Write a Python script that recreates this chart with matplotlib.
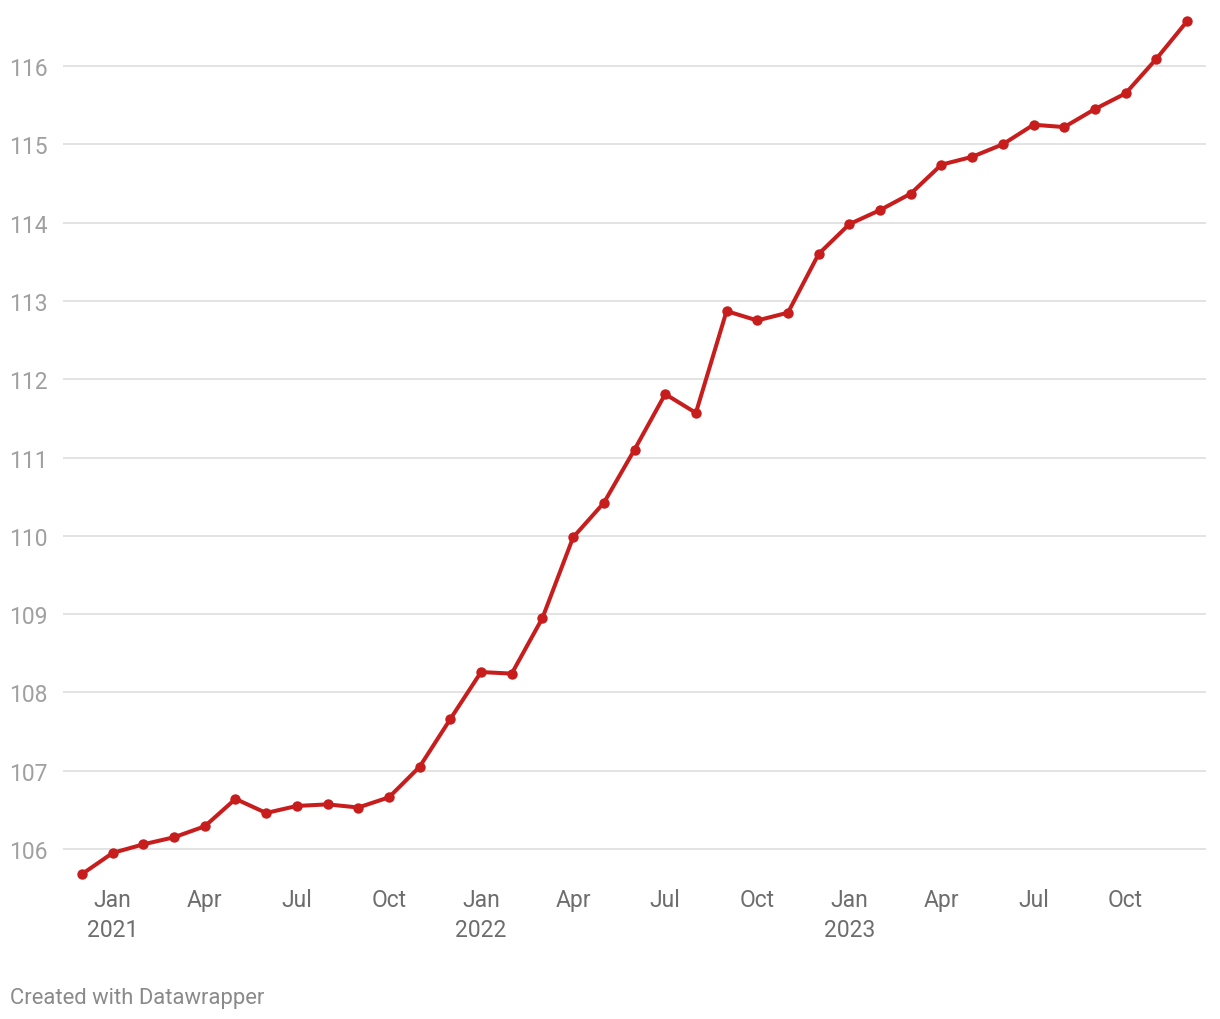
import matplotlib
matplotlib.use("Agg")
import matplotlib.pyplot as plt

months = list(range(37))  # Dec 2020 .. Dec 2023
values = [105.68, 105.95, 106.06, 106.15, 106.29, 106.64, 106.46, 106.55, 106.57, 106.53,
          106.66, 107.05, 107.66, 108.26, 108.24, 108.95, 109.98, 110.42, 111.10, 111.81,
          111.57, 112.87, 112.75, 112.85, 113.60, 113.98, 114.16, 114.37, 114.74, 114.84,
          115.00, 115.25, 115.22, 115.45, 115.65, 116.09, 116.57]
xtick_pos = [1, 4, 7, 10, 13, 16, 19, 22, 25, 28, 31, 34]
xtick_labels = ["Jan\n2021", "Apr", "Jul", "Oct", "Jan\n2022", "Apr", "Jul", "Oct",
                "Jan\n2023", "Apr", "Jul", "Oct"]
ytick_vals = [106, 107, 108, 109, 110, 111, 112, 113, 114, 115, 116]

plt.rcParams['font.family'] = ['Roboto', 'DejaVu Sans']

W, H = 1220, 1020
fig = plt.figure(figsize=(W / 100, H / 100), dpi=100)
left, right, top, bottom = 63, 1206, 10, 885
ax = fig.add_axes([left / W, 1 - bottom / H, (right - left) / W, (bottom - top) / H])

ax.plot(months, values, color="#c71e1d", lw=2.9, marker="o", ms=7.5,
        markeredgewidth=0, zorder=3, solid_joinstyle="miter")

ax.set_xlim(-0.62, 36.62)
ax.set_ylim(105.553, 116.728)
ax.set_yticks(ytick_vals)
ax.set_yticklabels([str(v) for v in ytick_vals])
ax.set_xticks(xtick_pos)
ax.set_xticklabels(xtick_labels)

ax.grid(axis="y", color="#e3e3e3", lw=1.4, zorder=0)
for s in ax.spines.values():
    s.set_visible(False)
ax.tick_params(axis="y", length=0, pad=38.5, labelsize=16.5, labelcolor="#a0a0a0")
for lab in ax.get_yticklabels():
    lab.set_horizontalalignment("left")
ax.tick_params(axis="x", length=0, pad=3, labelsize=16.5, labelcolor="#6d6d6d")
for lab in ax.get_xticklabels():
    lab.set_linespacing(1.4)

fig.text(10 / W, 1 - 999 / H, "Created with Datawrapper", fontsize=15.8,
         color="#8a8a8a", ha="left", va="center")

fig.savefig("out.png", dpi=100, facecolor="white")
